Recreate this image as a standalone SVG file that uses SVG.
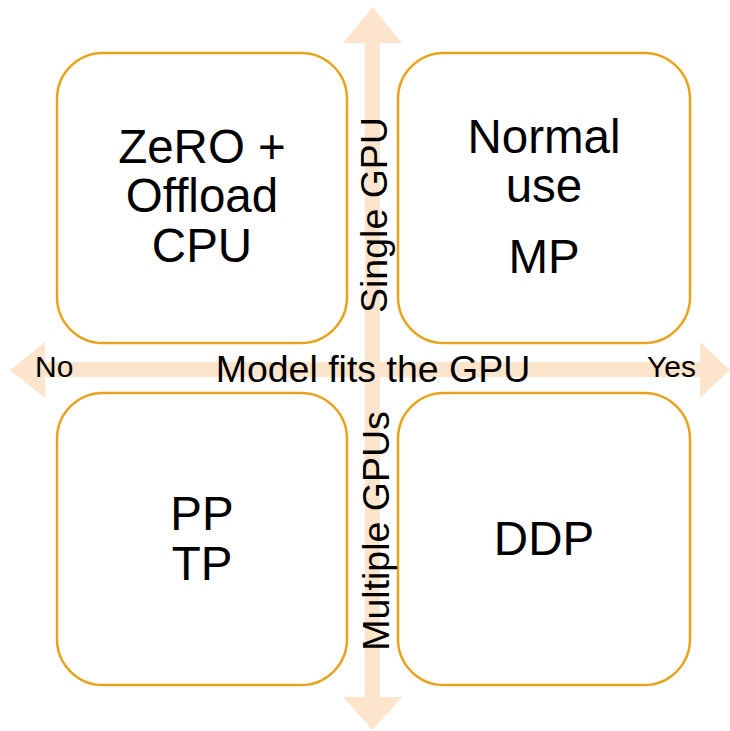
<svg xmlns="http://www.w3.org/2000/svg" width="730" height="731" viewBox="0 0 730 731">
  <style>
    .box { fill: #ffffff; stroke: #E8A31E; stroke-width: 2.5; }
    .axis { fill: #FDE4CC; stroke: none; }
    text { font-family: "Liberation Sans", Arial, sans-serif; fill: #000000; }
    .big { font-size: 47.5px; text-anchor: middle; }
    .lab { font-size: 37.5px; text-anchor: middle; }
    .end { font-size: 30px; }
  </style>
  <rect width="730" height="731" fill="#ffffff"/>

  <!-- quadrant axes -->
  <g id="connectors">
    <path class="axis" d="M365,43 H343 L372.5,7 L402,43 H380 V697 H402 L372.5,730 L343,697 H365 Z"/>
    <path class="axis" d="M45,362 V342 L10,370 L45,398 V377 H700 V398 L730,370 L700,342 V362 Z"/>
  </g>

  <g id="node-zero-offload">
    <rect class="box" x="57" y="53" width="290" height="290" rx="46"/>
    <text class="big" x="202" y="163">ZeRO +</text>
    <text class="big" x="202" y="212">Offload</text>
    <text class="big" x="202" y="262">CPU</text>
  </g>

  <g id="node-normal-use">
    <rect class="box" x="398" y="53" width="292" height="290" rx="46"/>
    <text class="big" x="544" y="153">Normal</text>
    <text class="big" x="544" y="202">use</text>
    <text class="big" x="544" y="273">MP</text>
  </g>

  <g id="node-pp-tp">
    <rect class="box" x="57" y="393" width="290" height="292" rx="46"/>
    <text class="big" x="202" y="530">PP</text>
    <text class="big" x="202" y="580">TP</text>
  </g>

  <g id="node-ddp">
    <rect class="box" x="398" y="393" width="292" height="292" rx="46"/>
    <text class="big" x="544" y="555">DDP</text>
  </g>

  <!-- axis labels -->
  <g id="axis-labels">
    <text class="lab" x="373" y="382">Model fits the GPU</text>
    <text class="end" x="35" y="377">No</text>
    <text class="end" x="647" y="377">Yes</text>
    <text class="lab" transform="translate(387,215) rotate(-90)">Single GPU</text>
    <text class="lab" transform="translate(389,531) rotate(-90)">Multiple GPUs</text>
  </g>
</svg>
